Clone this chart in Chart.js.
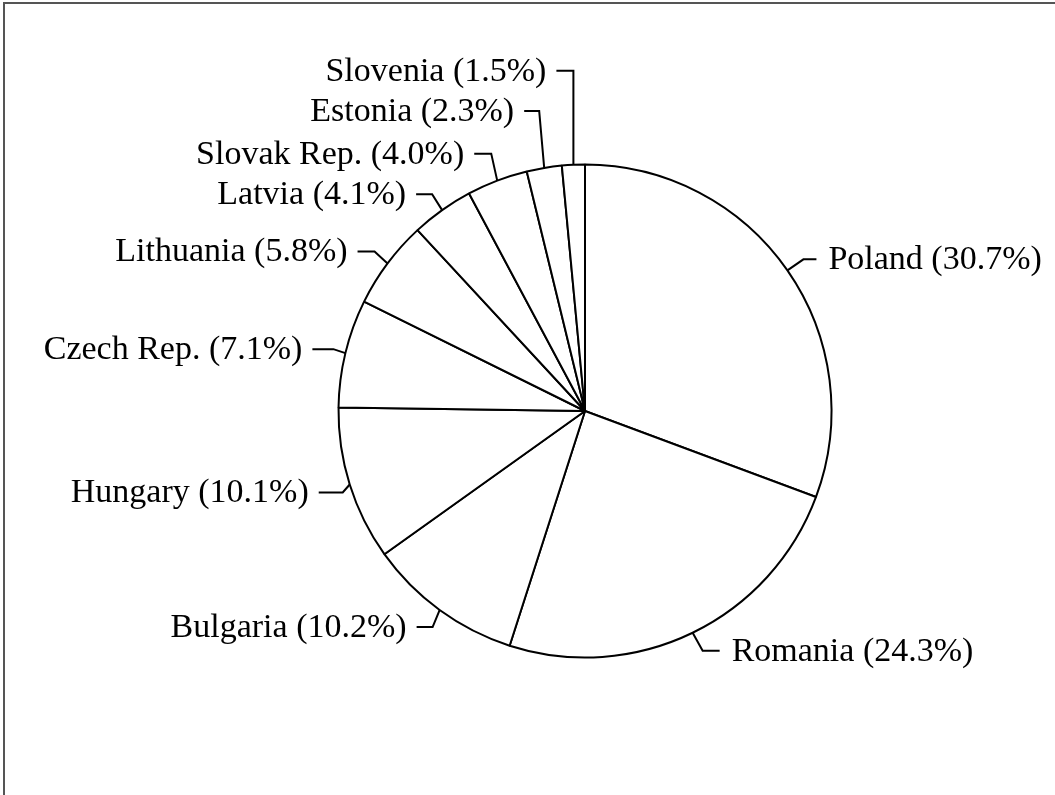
<!DOCTYPE html>
<html>
<head>
<meta charset="utf-8">
<script src="https://cdn.jsdelivr.net/npm/chart.js@4.4.1/dist/chart.umd.min.js"></script>
<style>
    html, body { margin: 0; padding: 0; background: #fff; }
</style>
</head>
<body>
<canvas id="pieChart" width="1055" height="795"></canvas>
<script>
const paises = [
    "Poland",
    "Romania",
    "Bulgaria",
    "Hungary",
    "Czech Rep.",
    "Lithuania",
    "Latvia",
    "Slovak Rep.",
    "Estonia",
    "Slovenia",
];
const porcentajes = [30.7, 24.3, 10.2, 10.1, 7.1, 5.8, 4.1, 4.0, 2.3, 1.5];

// leader line: elbow offset from the slice edge [dx, dy] and horizontal length
const guias = [
    [16, -11, 13],
    [10, 18, 17],
    [-7, 17, 16],
    [-7, 8, 24],
    [-12, -4, 21],
    [-13, -12, 17],
    [-10, -16, 16],
    [-6, -27, 17],
    [-5, -57, 15],
    [0, -94, 17],
];

const fuente = "34px 'Liberation Serif', 'Times New Roman', serif";

const marco = {
    id: "marco",
    beforeDraw(chart) {
        const ctx = chart.ctx;
        ctx.save();
        ctx.strokeStyle = "#555";
        ctx.lineWidth = 2;
        ctx.beginPath();
        ctx.moveTo(4, chart.height);
        ctx.lineTo(4, 3);
        ctx.lineTo(chart.width, 3);
        ctx.stroke();
        ctx.restore();
    }
};

const etiquetas = {
    id: "etiquetas",
    afterDraw(chart) {
        const ctx = chart.ctx;
        const arcs = chart.getDatasetMeta(0).data;
        ctx.save();
        ctx.font = fuente;
        ctx.fillStyle = "#000";
        ctx.strokeStyle = "#000";
        ctx.lineWidth = 2;
        ctx.textBaseline = "middle";
        for (let i = 0; i < arcs.length; i++) {
            const a = arcs[i];
            const mid = (a.startAngle + a.endAngle) / 2;
            const ex = a.x + Math.cos(mid) * a.outerRadius;
            const ey = a.y + Math.sin(mid) * a.outerRadius;
            const bx = ex + guias[i][0];
            const by = ey + guias[i][1];
            const derecha = ex > a.x;
            const hx = derecha ? bx + guias[i][2] : bx - guias[i][2];
            ctx.beginPath();
            ctx.moveTo(ex, ey);
            ctx.lineTo(bx, by);
            ctx.lineTo(hx, by);
            ctx.stroke();
            const texto = paises[i] + " (" + porcentajes[i].toFixed(1) + "%)";
            ctx.textAlign = derecha ? "left" : "right";
            ctx.fillText(texto, derecha ? hx + 12 : hx - 10, by + 1);
        }
        ctx.restore();
    }
};

const ctx = document.getElementById("pieChart").getContext("2d");
const myPieChart = new Chart(ctx, {
    type: "pie",
    data: {
        labels: paises,
        datasets: [{
            data: porcentajes,
            backgroundColor: "#fff",
            borderColor: "#000",
            borderWidth: 2,
            hoverBorderWidth: 2,
        }],
    },
    options: {
        responsive: false,
        animation: false,
        events: [],
        layout: {
            padding: { left: 337.5, top: 163.5, right: 222.5, bottom: 136.5 }
        },
        plugins: {
            legend: { display: false },
            tooltip: { enabled: false },
        },
    },
    plugins: [marco, etiquetas],
});
</script>
</body>
</html>
